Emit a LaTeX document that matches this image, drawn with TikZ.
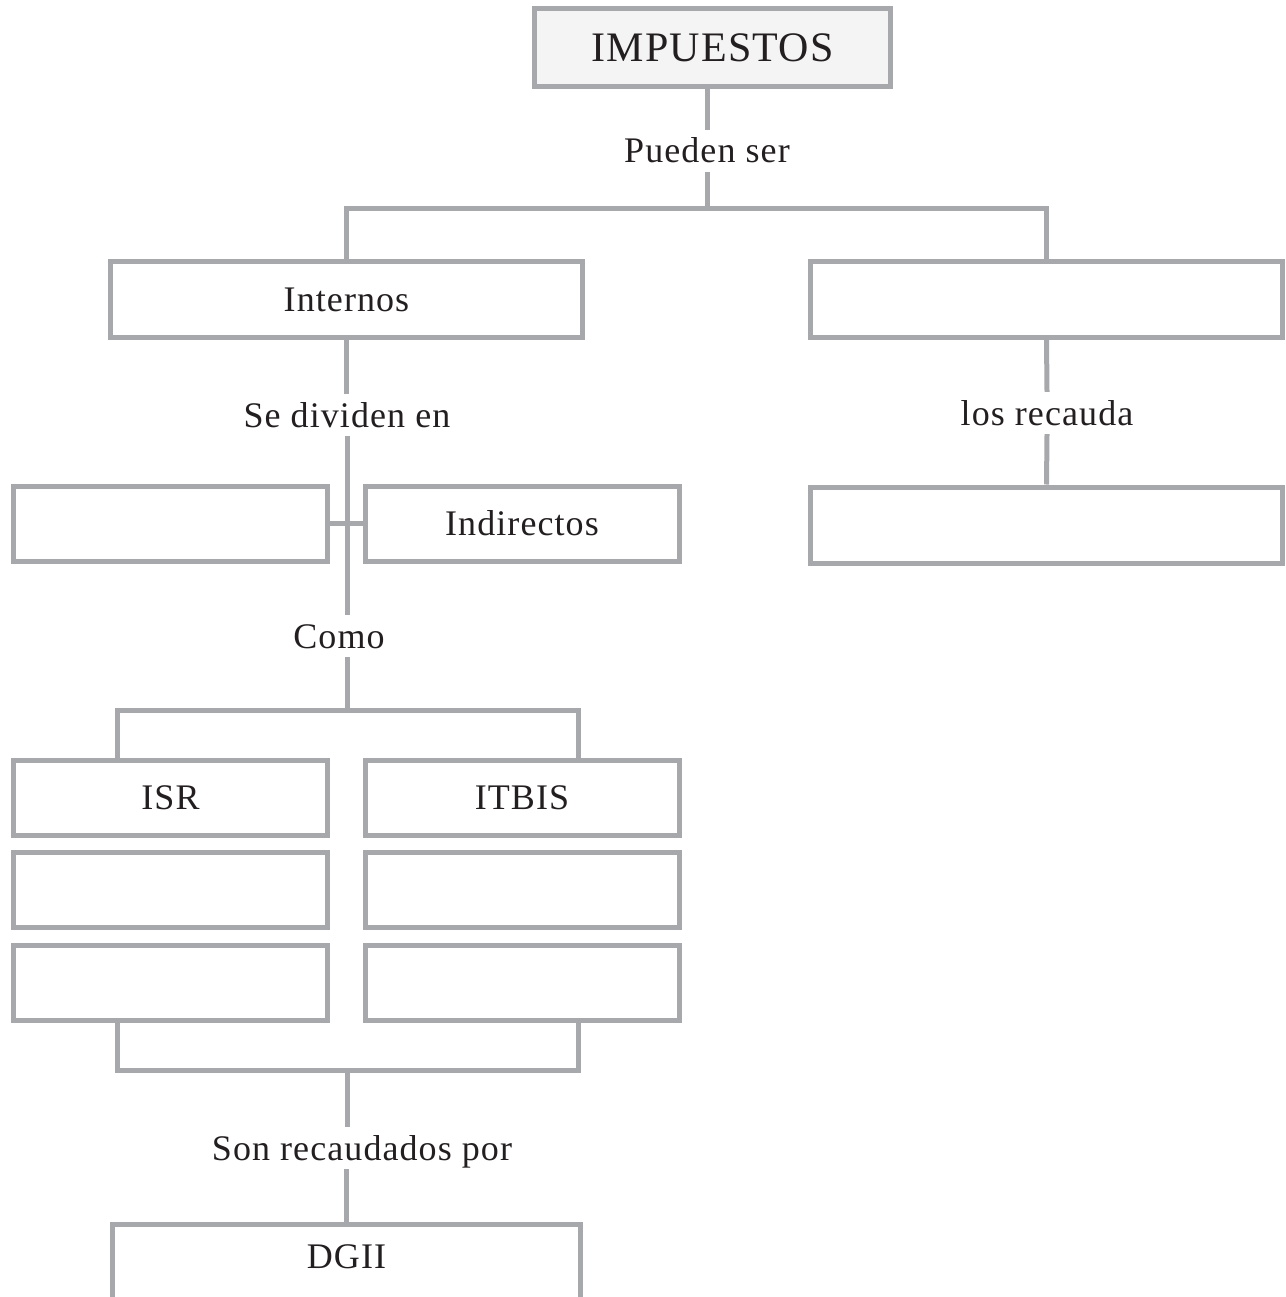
\documentclass[tikz,border=0pt]{standalone}
\usepackage{fontspec}
\setmainfont{Liberation Serif}[LetterSpace=3]
\definecolor{lg}{HTML}{A7A8AB}
\definecolor{impfill}{HTML}{F4F4F4}
\definecolor{tx}{HTML}{231F20}
\begin{document}
\begin{tikzpicture}[x=1pt,y=-1pt,
  conn/.style={draw=lg, line width=5pt},
  boxbase/.style={draw=lg, line width=5pt, inner sep=0pt, text=tx,
    text height=24pt, text depth=0pt, font=\fontsize{36}{40}\selectfont},
  bigbox/.style={boxbase, minimum width=472pt, minimum height=76pt},
  smallbox/.style={boxbase, minimum width=314pt, minimum height=75pt},
  impbox/.style={boxbase, fill=impfill, minimum width=356pt, minimum height=78pt,
    text height=28pt, font=\fontsize{42}{46}\selectfont},
  lbl/.style={inner xsep=4pt, inner ysep=9pt, text=tx, anchor=base,
    text height=24pt, text depth=0pt, font=\fontsize{36}{40}\selectfont}]
\useasboundingbox (0,0) rectangle (1285,1297);

% nodes
\node[impbox] (imp) at (712.5,47.5) {IMPUESTOS};
\node[lbl] (pueden) at (707,163) {Pueden ser};
\node[bigbox] (intern) at (346.5,299.5) {Internos};
\node[bigbox] (ext) at (1046.5,299.5) {};
\node[lbl] (sediv) at (347,427) {Se dividen en};
\node[lbl] (losrec) at (1047,425) {los recauda};
\node[bigbox] (recbox) at (1046.5,525) {};
\node[smallbox] (blank1) at (170.5,523.5) {};
\node[smallbox] (indir) at (522,523.5) {Indirectos};
\node[lbl] (como) at (339,648) {Como};
\node[smallbox] (isr) at (170.5,797.5) {ISR};
\node[smallbox] (itbis) at (522,797.5) {ITBIS};
\node[smallbox] (isrB) at (170.5,890) {};
\node[smallbox] (itbisB) at (522,890) {};
\node[smallbox] (isrC) at (170.5,983) {};
\node[smallbox] (itbisC) at (522,983) {};
\node[lbl] (son) at (362,1160) {Son recaudados por};
\node[bigbox, minimum width=468pt, text depth=12pt] (dgii) at (346.5,1262) {DGII};

% junctions
\coordinate (j1) at (707,209);
\coordinate (j2) at (347,710);
\coordinate (j3) at (347,1070);

% connectors
\draw[conn] (pueden.north |- imp.south) -- (pueden.north);
\draw[conn] (pueden.south) -- (j1);
\draw[conn] (intern.north) |- (j1) -| (ext.north);
\draw[conn] (intern.south) -- (intern.south |- sediv.north);
\draw[conn] (sediv.south) -- (sediv.south |- como.north);
\draw[conn] (blank1.east) -- (indir.west);
\draw[conn] (j2 |- como.south) -- (j2);
\draw[conn] ([xshift=-53.5pt]isr.north) |- (j2) -| ([xshift=56pt]itbis.north);
\draw[conn] ([xshift=-53.5pt]isrC.south) |- (j3) -| ([xshift=56pt]itbisC.south);
\draw[conn] (j3) -- (j3 |- son.north);
\draw[conn] (son.south -| dgii.north) -- (dgii.north);
\draw[conn] (ext.south) -- (losrec.north);
\draw[conn] (losrec.south) -- (recbox.north);
\end{tikzpicture}
\end{document}
